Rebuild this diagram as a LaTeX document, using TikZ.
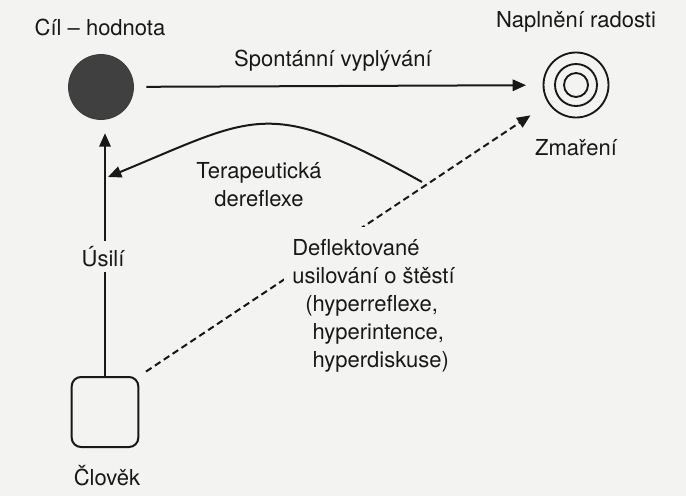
\documentclass[tikz,border=0pt]{standalone}
\usepackage{fontspec}
\setmainfont{TeX Gyre Heros}
\usetikzlibrary{arrows.meta}

\definecolor{paper}{HTML}{F3F3F1}
\definecolor{ink}{HTML}{181818}
\definecolor{ball}{HTML}{404040}

\begin{document}
\begin{tikzpicture}[x=0.75pt, y=-0.75pt,
  every node/.style={text=ink},
  lbl/.style={font=\fontsize{16.5}{21}\selectfont, inner sep=0pt},
  conn/.style={draw=ink, line width=1.5pt},
  arr/.style={conn, -{Triangle[length=10pt,width=8.5pt]}},
  gapfill/.style={fill=paper},
  ring/.style={draw=ink, line width=1.4pt}]

% paper and picture frame
\fill[paper] (0,0) rectangle (686,496);
\useasboundingbox (0,0) rectangle (686,496);

% the goal (filled ball), fulfilment (target rings) and the person (rounded box)
\node[circle, fill=ball, draw=ink!85, line width=0.6pt,
      minimum size=48.75pt, inner sep=0pt] (goal) at (101,87) {};
\node[circle, ring, minimum size=48.75pt, inner sep=0pt] (target) at (576,85) {};
\draw[ring] (target.center) circle[radius=15.75pt];
\draw[ring] (target.center) circle[radius=9pt];
\node[draw=ink, line width=1.5pt, rounded corners=7pt,
      minimum width=50pt, minimum height=52.5pt, inner sep=0pt] (person) at (105,412) {};

% captions of the three elements
\node[lbl, anchor=base] (goaltxt) at (100,36) {Cíl – hodnota};
\node[lbl, anchor=base] (targettxt) at (576,27) {Naplnění radosti};
\node[lbl, anchor=base] (frusttxt) at (576,155) {Zmaření};
\node[lbl, anchor=base] (persontxt) at (107,485) {Člověk};

% spontaneous flow from the goal to fulfilment
\draw[arr, shorten <=9.4pt, shorten >=12.4pt] (goal) -- (target);
\node[lbl, anchor=base] (spont) at (333,66) {Spontánní vyplývání};

% effort: person towards the goal
\draw[arr, shorten >=10pt] (person.north) -- (person.north |- goal.south);
\node[lbl, anchor=base, gapfill, inner sep=4pt] (usili) at (103,266) {Úsilí};

% therapeutic dereflection: curved return arrow
\coordinate (derefA) at (422,182);
\coordinate (derefB) at (108,177);
\draw[arr] (derefA) .. controls (268,96) and (256,116) .. (derefB);
\node[lbl, anchor=base] (dereftxt) at (259,178)
  {\begin{tabular}[t]{@{}c@{}}Terapeutická\\dereflexe\end{tabular}};

% deflected striving for happiness: dashed arrow towards fulfilment
\draw[arr, dashed, dash pattern=on 5pt off 3pt, shorten <=6pt, shorten >=16pt]
  (person.north east) -- (target);
\node[lbl, anchor=base west, gapfill, inner sep=6pt] (defltxt) at (284,255)
  {\begin{tabular}[t]{@{}l@{}}
    Deflektované\\
    usilování o štěstí\\
    \hspace*{9.75pt}(hyperreflexe,\\
    \hspace*{9.75pt}\phantom{(}hyperintence,\\
    \hspace*{9.75pt}\phantom{(}hyperdiskuse)
  \end{tabular}};

\end{tikzpicture}
\end{document}
